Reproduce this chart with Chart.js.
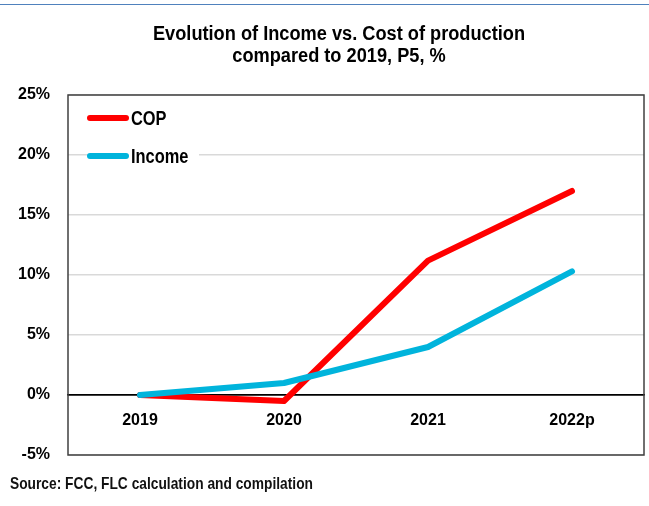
<!DOCTYPE html>
<html>
<head>
  <title>Income vs COP</title>
  <script src="https://cdn.jsdelivr.net/npm/chart.js@4.4.0/dist/chart.umd.min.js"></script>
  <style>
    body { margin: 0; background: #fff; font-family: "Liberation Sans", Arial, sans-serif; font-weight: bold; }
    #wrap { position: relative; width: 649px; height: 506px; }
    #topline { position: absolute; left: 0; top: 4px; width: 649px; height: 0; border-top: 1px solid #4f81bd; }
    #title { position: absolute; left: 39px; width: 600px; top: 22px; text-align: center; font-size: 20px; line-height: 22px; color: #000; transform: scaleX(0.91); transform-origin: 300px 0; white-space: nowrap; }
    #source { position: absolute; left: 10px; top: 474px; font-size: 17px; color: #111; transform: scaleX(0.81); transform-origin: 0 0; white-space: nowrap; }
    canvas { position: absolute; left: 0; top: 0; }
  </style>
</head>
<body>
  <div id="wrap">
    <canvas id="chart" width="649" height="506"></canvas>
    <div id="topline"></div>
    <div id="title">Evolution of Income vs. Cost of production<br>compared to 2019, P5, %</div>
    <div id="source">Source: FCC, FLC calculation and compilation</div>
  </div>
  <script>
    var years = ["2019", "2020", "2021", "2022p"];
    var cop = [0, -0.5, 11.2, 17.0];
    var income = [0, 1.0, 4.0, 10.3];
    var seriesNames = ["COP", "Income"];
    var seriesColors = ["#ff0000", "#00b4dc"];

    var fontName = '"Liberation Sans", Arial, sans-serif';

    // box round the plot + legend inside top left corner
    var boxAndLegend = {
      id: 'boxAndLegend',
      afterDraw: function(chart) {
        var ctx = chart.ctx, a = chart.chartArea;
        ctx.save();
        ctx.strokeStyle = '#404040';
        ctx.lineWidth = 1.5;
        ctx.strokeRect(a.left, a.top, a.right - a.left, a.bottom - a.top);

        var x0 = a.left + 20, y0 = a.top + 23;
        ctx.fillStyle = '#fff';
        ctx.fillRect(x0, y0 - 14, 111, 66);
        ctx.font = 'bold 20px ' + fontName;
        ctx.textBaseline = 'middle';
        ctx.lineCap = 'round';
        ctx.lineWidth = 6;
        for (var i = 0; i < seriesNames.length; i++) {
          var y = y0 + i * 38;
          ctx.strokeStyle = seriesColors[i];
          ctx.beginPath();
          ctx.moveTo(x0 + 2, y);
          ctx.lineTo(x0 + 38, y);
          ctx.stroke();
          ctx.fillStyle = '#000';
          // narrow look, like Arial Narrow
          ctx.save();
          ctx.translate(x0 + 43, y + 1);
          ctx.scale(0.82, 1);
          ctx.fillText(seriesNames[i], 0, 0);
          ctx.restore();
        }
        ctx.restore();
      }
    };

    new Chart(document.getElementById("chart"), {
      type: 'line',
      data: {
        labels: years,
        datasets: [{
          label: seriesNames[0],
          data: cop,
          borderColor: seriesColors[0],
          borderWidth: 6,
          order: 1
        }, {
          label: seriesNames[1],
          data: income,
          borderColor: seriesColors[1],
          borderWidth: 6,
          order: 0
        }]
      },
      options: {
        responsive: false,
        animation: false,
        layout: { padding: { top: 95, right: 5, bottom: 51, left: 0 } },
        elements: {
          point: { radius: 0 },
          line: { tension: 0, borderCapStyle: 'round', borderJoinStyle: 'round' }
        },
        plugins: {
          legend: { display: false },
          tooltip: { enabled: false }
        },
        scales: {
          x: {
            position: { y: 0 },
            offset: true,
            grid: { display: false, drawTicks: false },
            border: { color: '#000', width: 1.5 },
            ticks: { color: '#000', padding: 16, font: { family: fontName, size: 16, weight: 'bold' } }
          },
          y: {
            min: -5,
            max: 25,
            afterFit: function(scale) { scale.width = 68; },
            grid: {
              drawTicks: false,
              lineWidth: 1.5,
              color: function(c) { return c.tick && c.tick.value === 0 ? '#000' : '#d9d9d9'; }
            },
            border: { display: false },
            ticks: {
              stepSize: 5,
              padding: 18,
              color: '#000',
              font: { family: fontName, size: 16, weight: 'bold' },
              callback: function(v) { return v + '%'; }
            }
          }
        }
      },
      plugins: [boxAndLegend]
    });
  </script>
</body>
</html>
